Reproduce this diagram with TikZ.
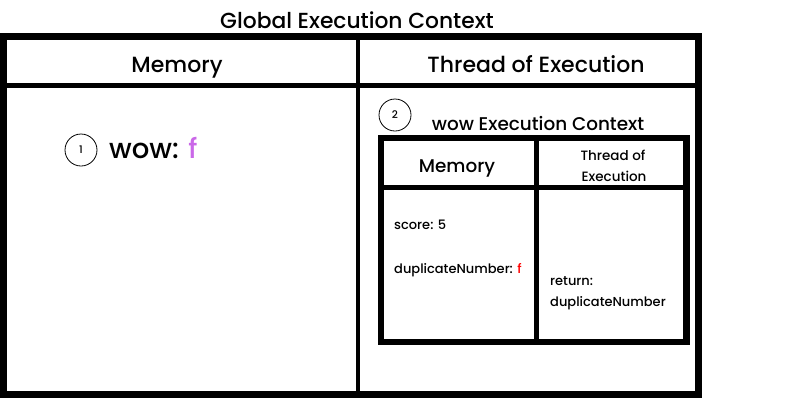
\documentclass[tikz,border=0pt]{standalone}
\usepackage{fontspec}
\setmainfont{Poppins}[UprightFont={* Medium}]
\definecolor{fpurple}{RGB}{202,104,232}
\definecolor{fred}{RGB}{255,0,0}
\begin{document}
\begin{tikzpicture}[x=1pt,y=-1pt,
  thickline/.style={line width=7pt},
  midline/.style={line width=5pt},
  numcircle/.style={circle,draw,line width=0.8pt,minimum size=32pt,inner sep=0pt,font=\fontsize{10.5}{12}\selectfont},
  bigtitle/.style={font=\fontsize{21.8}{24}\selectfont,anchor=base,inner sep=0pt},
  hdr/.style={font=\fontsize{22}{24}\selectfont,anchor=base,inner sep=0pt},
  smallhdr/.style={font=\fontsize{18.4}{21}\selectfont,anchor=base,inner sep=0pt},
  body/.style={font=\fontsize{13}{15}\selectfont,anchor=base west,inner sep=0pt}]
\useasboundingbox (0,0) rectangle (800,400);
% global outer box
\coordinate (gtl) at (3.5,36.5);
\coordinate (gbr) at (698.5,394.5);
\draw[thickline] (gtl) rectangle (gbr);
\coordinate (gh1) at (3.5,85.5);
\coordinate (gh2) at (698.5,85.5);
\draw[midline] (gh1) -- (gh2);
\coordinate (gv1) at (358,36.5);
\coordinate (gv2) at (358,394.5);
\draw[line width=4.5pt] (gv1) -- (gv2);
\node[bigtitle] (gtitle) at (357,28) {Global Execution Context};
\node[hdr] (gmem) at (177,72) {Memory};
\node[hdr] (gthread) at (536,72) {Thread of Execution};
% memory content
\node[numcircle] (c1) at (81,150) {1};
\node[font=\fontsize{27.5}{30}\selectfont,anchor=base west,inner sep=0pt] (wow) at (109,158) {wow: \textcolor{fpurple}{f}};
% wow execution context
\node[numcircle] (c2) at (395,115) {2};
\node[smallhdr] (wtitle) at (538,130) {wow Execution Context};
\coordinate (wtl) at (381,138);
\coordinate (wbr) at (686.5,342);
\draw[line width=6.5pt] (wtl) rectangle (wbr);
\coordinate (wh1) at (381,187);
\coordinate (wh2) at (686.5,187);
\draw[midline] (wh1) -- (wh2);
\coordinate (wv1) at (536,138);
\coordinate (wv2) at (536,342);
\draw[midline] (wv1) -- (wv2);
\node[smallhdr] (wmem) at (457,172.5) {Memory};
\node[font=\fontsize{13.5}{15}\selectfont,anchor=base,inner sep=0pt] (wthread1) at (613,160) {Thread of};
\node[font=\fontsize{13.5}{15}\selectfont,anchor=base,inner sep=0pt] (wthread2) at (614,181.5) {Execution};
\node[body] (score) at (394,229.5) {score: 5};
\node[body] (dup) at (394,273) {duplicateNumber: \textcolor{fred}{f}};
\node[body] (ret1) at (550,285) {return:};
\node[body] (ret2) at (550,306) {duplicateNumber};
\end{tikzpicture}
\end{document}
